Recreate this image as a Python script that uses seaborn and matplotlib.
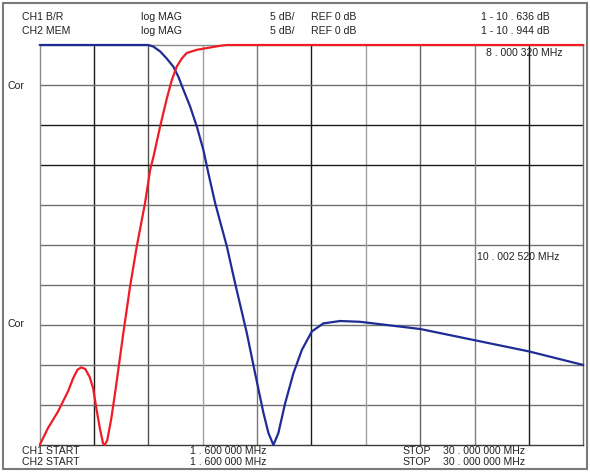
import matplotlib
matplotlib.use("Agg")  # no display
import matplotlib.pyplot as plt
import seaborn as sns
import numpy as np
from matplotlib.patches import Rectangle

# ── Trace data ────────────────────────────────────────────────────
# CH1 B/R (red), frequency in MHz, level in dB
ch1_freq = [1.6, 2.03, 2.56, 3.08, 3.34, 3.57, 3.77, 3.98, 4.21, 4.39, 4.56,
            4.74, 4.91, 5.00, 5.13, 5.34, 5.55, 5.97, 6.32, 6.67, 7.10, 7.37,
            7.54, 7.89, 8.24, 8.50, 8.76, 9.02, 9.28, 9.81, 11.02, 11.38, 30.0]
ch1_db = [-50.0, -47.9, -45.8, -43.3, -41.7, -40.6, -40.3, -40.5, -41.5, -42.9, -45.4,
          -47.9, -49.8, -50.0, -49.4, -46.7, -43.3, -36.0, -30.2, -25.2, -19.8, -15.6,
          -14.0, -10.2, -6.7, -4.4, -2.7, -1.7, -1.0, -0.6, -0.1, 0.0, 0.0]

# CH2 MEM (blue)
ch2_freq = [1.6, 7.28, 7.54, 7.89, 8.24, 8.58, 8.85, 9.11, 9.46, 9.81, 10.15,
            10.41, 10.77, 11.38, 11.81, 12.42, 12.85, 13.29, 13.55, 13.81, 14.07,
            14.42, 14.86, 15.30, 15.82, 16.42, 17.30, 18.34, 21.48, 24.32, 27.16, 30.0]
ch2_db = [0.0, 0.0, -0.2, -0.8, -1.7, -2.7, -4.0, -5.6, -7.7, -10.2, -13.1,
          -16.0, -19.8, -25.2, -29.8, -36.0, -41.0, -46.0, -48.5, -50.0, -48.5,
          -44.8, -41.0, -38.1, -35.8, -34.8, -34.5, -34.6, -35.5, -36.9, -38.3, -40.0]

START_MHZ, STOP_MHZ = 1.6, 30.0
REF_DB, DB_PER_DIV, N_DIV = 0, 5, 10

RED = "#ee1c24"
BLUE = "#1f2c96"

# ── Style ─────────────────────────────────────────────────────────
sns.set_theme(style="white")
plt.rcParams["font.family"] = ["Liberation Sans", "DejaVu Sans"]
FS = 7.6

W, H = 590, 472
fig = plt.figure(figsize=(W / 100, H / 100), dpi=100)
fig.patch.set_facecolor("white")
ax = fig.add_axes([39.7 / W, 27 / H, 543.6 / W, 400 / H])

# graticule: some lines come out darker on the screen dump
xgrid = np.linspace(START_MHZ, STOP_MHZ, N_DIV + 1)
ygrid = np.linspace(REF_DB - N_DIV * DB_PER_DIV, REF_DB, N_DIV + 1)
vcol = {1: "#1a1a1a", 2: "#505050", 3: "#a0a0a0", 4: "#777777", 5: "#1a1a1a",
        6: "#a0a0a0", 7: "#666666", 8: "#808080", 9: "#1a1a1a"}
hcol = {7: "#1a1a1a", 8: "#1a1a1a"}
for i in range(1, N_DIV):
    ax.axvline(xgrid[i], color=vcol[i], lw=1.0, zorder=1)
    ax.axhline(ygrid[i], color=hcol.get(i, "#707070"), lw=1.0, zorder=1)

sns.lineplot(x=ch2_freq, y=ch2_db, ax=ax, color=BLUE, lw=1.6,
             estimator=None, clip_on=False, zorder=3)
sns.lineplot(x=ch1_freq, y=ch1_db, ax=ax, color=RED, lw=1.6,
             estimator=None, clip_on=False, zorder=4)

ax.set_xlim(START_MHZ, STOP_MHZ)
ax.set_ylim(REF_DB - N_DIV * DB_PER_DIV, REF_DB)
ax.set_xticks([])
ax.set_yticks([])
ax.set_xlabel("")
ax.set_ylabel("")
for side, c in [("left", "#8a8a8a"), ("top", "#8a8a8a"),
                ("bottom", "#3a3a3a"), ("right", "#6a6a6a")]:
    ax.spines[side].set_color(c)
    ax.spines[side].set_linewidth(1.0)
    ax.spines[side].set_visible(True)


def label(x, y, s, ha="left"):
    fig.text(x / W, 1 - y / H, s, ha=ha, va="center", fontsize=FS, color="#222222")


# header
label(22, 17, "CH1 B/R")
label(22, 31, "CH2 MEM")
label(141, 17, "log MAG")
label(141, 31, "log MAG")
label(295, 17, "5 dB/", ha="right")
label(295, 31, "5 dB/", ha="right")
label(311, 17, "REF 0 dB")
label(311, 31, "REF 0 dB")
label(550, 17, "1 - 10 . 636 dB", ha="right")
label(550, 31, "1 - 10 . 944 dB", ha="right")

# markers and side labels
label(486, 53, "8 . 000 320 MHz")
label(477, 257, "10 . 002 520 MHz")
label(8, 86, "Cor")
label(8, 324, "Cor")

# footer
label(22, 451, "CH1 START")
label(22, 462, "CH2 START")
label(190, 451, "1 . 600 000 MHz")
label(190, 462, "1 . 600 000 MHz")
label(402, 451, "STOP")
label(402, 462, "STOP")
label(443, 451, "30 . 000 000 MHz")
label(443, 462, "30 . 000 000 MHz")

# outer frame of the screen dump
fig.patches.append(Rectangle((3 / W, 3 / H), 584 / W, 466 / H, transform=fig.transFigure,
                             fill=False, edgecolor="#7a7a7a", lw=1.5))

fig.savefig("out.png", dpi=100)
plt.close(fig)
